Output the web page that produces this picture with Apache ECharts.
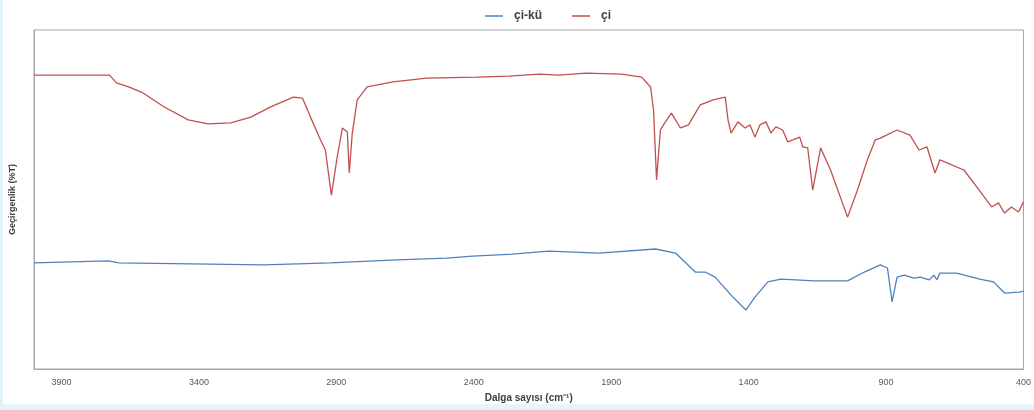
<!doctype html>
<html>
<head>
<meta charset="utf-8">
<style>
  html, body { margin: 0; padding: 0; background: #fff; }
  #main { width: 1034px; height: 410px; }
</style>
</head>
<body>
<div id="main"></div>
<script src="https://cdn.jsdelivr.net/npm/echarts@6/dist/echarts.min.js"></script>
<script>
// wavenumbers (cm-1) and transmittance (arbitrary % scale)
var ciWave = [4000, 3725, 3700, 3656, 3609, 3526, 3439, 3367, 3284, 3211, 3139, 3056, 3023, 2994,
  2958, 2940, 2918, 2897, 2878, 2860, 2853, 2842, 2824, 2788, 2694, 2571, 2390, 2271, 2162, 2090,
  1992, 1862, 1789, 1757, 1746, 1735, 1721, 1710, 1681, 1648, 1619, 1576, 1529, 1485, 1475, 1464,
  1439, 1413, 1395, 1377, 1359, 1337, 1319, 1301, 1276, 1258, 1239, 1214, 1203, 1185, 1167, 1138,
  1102, 1040, 1004, 968, 939, 921, 860, 813, 780, 751, 722, 704, 617, 570, 516, 491, 469, 444, 418, 400];
var ciT = [86.7, 86.7, 84.4, 83.2, 81.7, 77.3, 73.5, 72.3, 72.6, 74.3, 77.3, 80.2, 79.9, 74.3,
  67.6, 64.6, 51.3, 62.5, 71.1, 69.9, 57.8, 69.6, 79.4, 83.2, 84.7, 85.8, 86.1, 86.4, 87.0, 86.7,
  87.3, 87.0, 86.1, 83.2, 76.4, 55.8, 70.5, 72.0, 75.5, 71.1, 72.0, 77.9, 79.4, 80.2, 73.5, 69.6,
  72.9, 71.1, 72.0, 68.4, 72.0, 72.9, 69.6, 71.4, 70.5, 67.0, 67.6, 68.4, 65.5, 65.2, 52.8, 65.2,
  58.7, 44.8, 52.8, 61.7, 67.6, 68.1, 70.5, 69.0, 64.6, 65.5, 57.8, 61.7, 58.7, 53.7, 47.8, 49.0, 46.0, 47.8, 46.3, 49.3];

var cikuWave = [4000, 3729, 3692, 3164, 2922, 2679, 2499, 2404, 2260, 2126, 1945, 1739, 1666, 1594,
  1558, 1522, 1464, 1410, 1377, 1330, 1283, 1160, 1040, 979, 921, 895, 878, 860, 834, 798, 776,
  743, 726, 715, 704, 643, 559, 509, 469, 415, 400];
var cikuT = [31.3, 31.9, 31.3, 30.7, 31.3, 32.2, 32.7, 33.3, 33.9, 34.8, 34.2, 35.4, 34.2, 28.6,
  28.6, 27.1, 21.8, 17.4, 21.2, 25.7, 26.5, 26.0, 26.0, 28.6, 30.7, 29.8, 19.8, 27.1, 27.7, 26.8, 27.1,
  26.3, 27.7, 26.3, 28.3, 28.3, 26.5, 25.7, 22.4, 22.7, 23.0];

function pairs(xs, ys) {
  return xs.map(function (x, i) { return [x, ys[i]]; });
}

var chart = echarts.init(document.getElementById('main'));

chart.setOption({
  animation: false,
  textStyle: { fontFamily: 'Liberation Sans, Arial, sans-serif' },
  legend: {
    top: 5,
    left: 480,
    icon: 'rect',
    itemWidth: 18,
    itemHeight: 1.5,
    itemGap: 30,
    textStyle: { color: '#404040', fontSize: 12, fontWeight: 'bold', padding: [0, 0, 0, 6] },
    data: ['çi-kü', 'çi']
  },
  grid: {
    left: 32, right: 7, top: 30, bottom: 41,
    show: true,
    borderColor: '#a6a6a6',
    borderWidth: 1
  },
  xAxis: {
    type: 'value',
    min: 400,
    max: 4000,
    interval: 500,
    inverse: true,
    name: 'Dalga sayısı (cm⁻¹)',
    nameLocation: 'middle',
    nameGap: 24,
    nameTextStyle: { color: '#404040', fontSize: 10, fontWeight: 'bold' },
    axisLine: { lineStyle: { color: '#a6a6a6' } },
    axisTick: { show: false },
    splitLine: { show: false },
    axisLabel: {
      color: '#595959', fontSize: 9, margin: 9,
      formatter: function (v) { return v === 4000 ? '' : v; }
    }
  },
  yAxis: {
    type: 'value',
    min: 0,
    max: 100,
    name: 'Geçirgenlik (%T)',
    nameLocation: 'middle',
    nameGap: 17,
    nameTextStyle: { color: '#404040', fontSize: 9, fontWeight: 'bold' },
    axisLine: { show: true, lineStyle: { color: '#a6a6a6' } },
    axisTick: { show: false },
    axisLabel: { show: false },
    splitLine: { show: false }
  },
  graphic: [{
    type: 'rect',
    left: 0, bottom: 0,
    shape: { width: 1034, height: 6 },
    style: { fill: '#e4f5fb' },
    silent: true
  }, {
    type: 'rect',
    left: 0, top: 0,
    shape: { width: 3, height: 410 },
    style: { fill: '#dff3fb' },
    silent: true
  }],
  series: [{
    name: 'çi-kü',
    type: 'line',
    symbol: 'none',
    data: pairs(cikuWave, cikuT),
    lineStyle: { color: '#4f81bd', width: 1.3 },
    itemStyle: { color: '#4f81bd' }
  }, {
    name: 'çi',
    type: 'line',
    symbol: 'none',
    data: pairs(ciWave, ciT),
    lineStyle: { color: '#c0504d', width: 1.3 },
    itemStyle: { color: '#c0504d' }
  }]
});

window.onresize = chart.resize;
</script>
</body>
</html>
